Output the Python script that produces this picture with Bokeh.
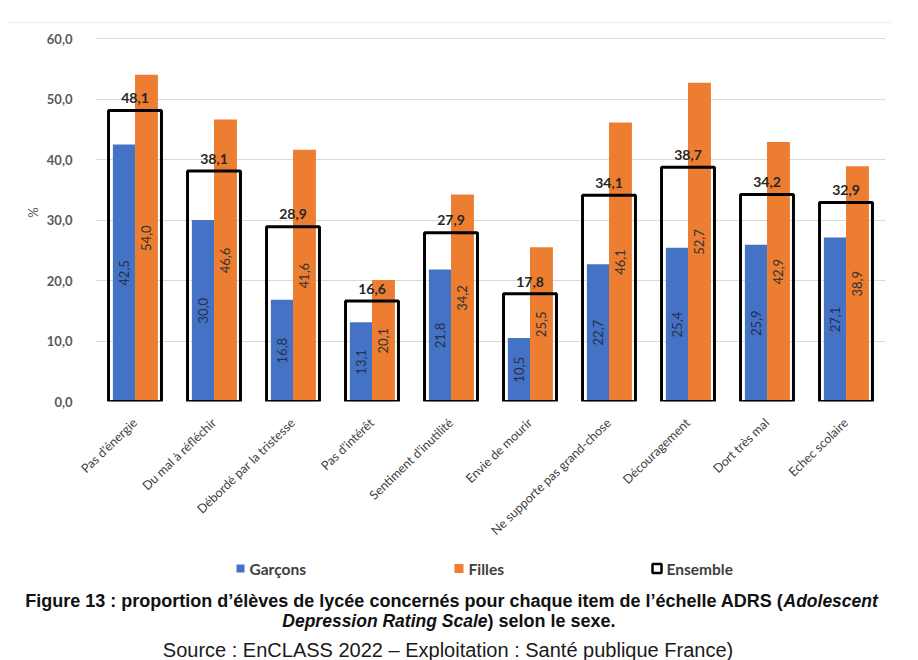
import math
from bokeh.plotting import figure
from bokeh.layouts import column
from bokeh.models import ColumnDataSource, FixedTicker, Range1d
from bokeh.transform import dodge
from bokeh.core.properties import value
from bokeh.embed import file_html
from bokeh.resources import INLINE

categories = ["Pas d'énergie", "Du mal à réfléchir", "Débordé par la tristesse",
              "Pas d'intérêt", "Sentiment d'inutilité", "Envie de mourir",
              "Ne supporte pas grand-chose", "Découragement", "Dort très mal",
              "Echec scolaire"]
garcons = [42.5, 30.0, 16.8, 13.1, 21.8, 10.5, 22.7, 25.4, 25.9, 27.1]
filles = [54.0, 46.6, 41.6, 20.1, 34.2, 25.5, 46.1, 52.7, 42.9, 38.9]
ensemble = [48.1, 38.1, 28.9, 16.6, 27.9, 17.8, 34.1, 38.7, 34.2, 32.9]
y_ticks = [0, 10, 20, 30, 40, 50, 60]
legend_labels = ["Garçons", "Filles", "Ensemble"]

BLUE = "#4472C4"
ORANGE = "#ED7D31"
FONT = "Lato"
W = 918
H0 = 23          # top strip with the chart-area border line
H1 = 548 - H0    # chart
H2 = 660 - 548   # legend + caption


def fr(v):
    return f"{v:.1f}".replace(".", ",")


def bare(fig):
    fig.frame_align = False
    fig.outline_line_color = None
    fig.xgrid.visible = False
    fig.ygrid.visible = False
    fig.border_fill_color = "white"
    fig.background_fill_color = "white"


# top strip
t = figure(width=W, height=H0, x_range=Range1d(0, W), y_range=Range1d(H0, 0),
           output_backend="svg", toolbar_location=None,
           x_axis_location=None, y_axis_location=None,
           min_border_left=0, min_border_right=0, min_border_top=0, min_border_bottom=0)
bare(t)
t.segment(x0=[8], y0=[22.5], x1=[890], y1=[22.5], line_color="#d9d9d9", line_width=1)

xs = list(range(len(categories)))
src = ColumnDataSource(dict(
    x=xs, g=garcons, f=filles, e=ensemble,
    gl=[fr(v) for v in garcons], fl=[fr(v) for v in filles], el=[fr(v) for v in ensemble],
    gy=[v / 2 for v in garcons], fy=[v / 2 for v in filles],
    ey=[v + 1.2 for v in ensemble],
))

Y_TOP = 62.48
p = figure(width=W, height=H1, x_range=(-0.5, len(categories) - 0.5), y_range=(0, Y_TOP),
           output_backend="svg", toolbar_location=None,
           min_border_left=95, min_border_right=33, min_border_top=0,
           min_border_bottom=548 - 401)
p.frame_align = False
p.outline_line_color = None
p.background_fill_color = "white"
p.border_fill_color = "white"

p.vbar(x=dodge("x", -0.14, range=p.x_range), top="g", width=0.28, source=src,
       fill_color=BLUE, line_color=None)
p.vbar(x=dodge("x", 0.145, range=p.x_range), top="f", width=0.29, source=src,
       fill_color=ORANGE, line_color=None)
p.vbar(x="x", top="e", width=0.67, source=src, fill_alpha=0, fill_color="white",
       line_color="black", line_width=3)

p.text(x=dodge("x", -0.14, range=p.x_range), y="gy", text="gl", source=src, angle=math.pi / 2,
       text_align="center", text_baseline="middle", text_font_size="13px",
       text_color="#263050", text_font=value(FONT))
p.text(x=dodge("x", 0.145, range=p.x_range), y="fy", text="fl", source=src, angle=math.pi / 2,
       text_align="center", text_baseline="middle", text_font_size="13px",
       text_color="#333333", text_font=value(FONT))
p.text(x="x", y="ey", text="el", source=src, text_align="center", text_baseline="bottom",
       text_font_size="14px", text_font_style="bold", text_color="#262626",
       text_font=value(FONT))

# axes
p.xgrid.visible = False
p.ygrid.grid_line_color = "#d9d9d9"
p.ygrid.ticker = FixedTicker(ticks=y_ticks)

p.yaxis.ticker = FixedTicker(ticks=y_ticks)
p.yaxis.major_label_overrides = {v: fr(float(v)) for v in y_ticks}
p.yaxis.axis_line_color = None
p.yaxis.major_tick_line_color = None
p.yaxis.minor_tick_line_color = None
p.yaxis.major_label_standoff = 17
p.yaxis.major_label_text_font = FONT
p.yaxis.major_label_text_font_size = "13px"
p.yaxis.major_label_text_font_style = "bold"
p.yaxis.major_label_text_color = "#595959"
p.yaxis.axis_label = "%"
p.yaxis.axis_label_text_font = FONT
p.yaxis.axis_label_text_font_size = "13px"
p.yaxis.axis_label_text_font_style = "normal"
p.yaxis.axis_label_text_color = "#595959"
p.yaxis.axis_label_standoff = 3

p.xaxis.ticker = FixedTicker(ticks=xs)
p.xaxis.major_label_overrides = {i: c for i, c in zip(xs, categories)}
p.xaxis.major_label_orientation = math.radians(44)
p.xaxis.axis_line_color = None
p.xaxis.major_tick_line_color = None
p.xaxis.minor_tick_line_color = None
p.xaxis.major_label_standoff = 13
p.xaxis.major_label_text_font = FONT
p.xaxis.major_label_text_font_size = "12.5px"
p.xaxis.major_label_text_color = "#404040"

# lower panel: legend + caption (coordinates = page pixels)
q = figure(width=W, height=H2, x_range=Range1d(0, W), y_range=Range1d(660, 548),
           output_backend="svg", toolbar_location=None,
           x_axis_location=None, y_axis_location=None,
           min_border_left=0, min_border_right=0, min_border_top=0, min_border_bottom=0)
bare(q)

LEG_Y = 568
q.rect(x=[240], y=[LEG_Y], width=8, height=8, fill_color=BLUE, line_color=None)
q.rect(x=[458.5], y=[LEG_Y], width=9, height=9, fill_color=ORANGE, line_color=None)
q.rect(x=[656.5], y=[LEG_Y], width=9, height=9, fill_alpha=0, line_color="black", line_width=2.5)
q.text(x=[249, 468, 666], y=[LEG_Y] * 3, text=legend_labels, text_align="left",
       text_baseline="middle", text_font=value(FONT), text_font_size="15.5px",
       text_font_style="bold", text_color="#404040")

CAP = "Liberation Sans"
cap_parts = [
    ("Figure 13 : proportion d’élèves de lycée concernés pour chaque item de l’échelle ADRS (", 783, 600, "right", "bold", "18px"),
    ("Adolescent", 783, 600, "left", "bold italic", "17.5px"),
    ("Depression Rating Scale", 487, 620, "right", "bold italic", "17.5px"),
    (") selon le sexe.", 487, 620, "left", "bold", "18px"),
]
for txt, px, py, al, st, sz in cap_parts:
    q.text(x=[px], y=[py], text=[txt], text_align=al, text_baseline="middle",
           text_font=value(CAP), text_font_size=sz, text_font_style=st,
           text_color="#111111")
q.text(x=[447.5], y=[649], text=["Source : EnCLASS 2022 – Exploitation : Santé publique France)"],
       text_align="center", text_baseline="middle", text_font=value(CAP),
       text_font_size="20px", text_color="#1a1a1a")

layout = column(t, p, q, spacing=0)
open("out.html", "w").write(file_html(layout, INLINE))
